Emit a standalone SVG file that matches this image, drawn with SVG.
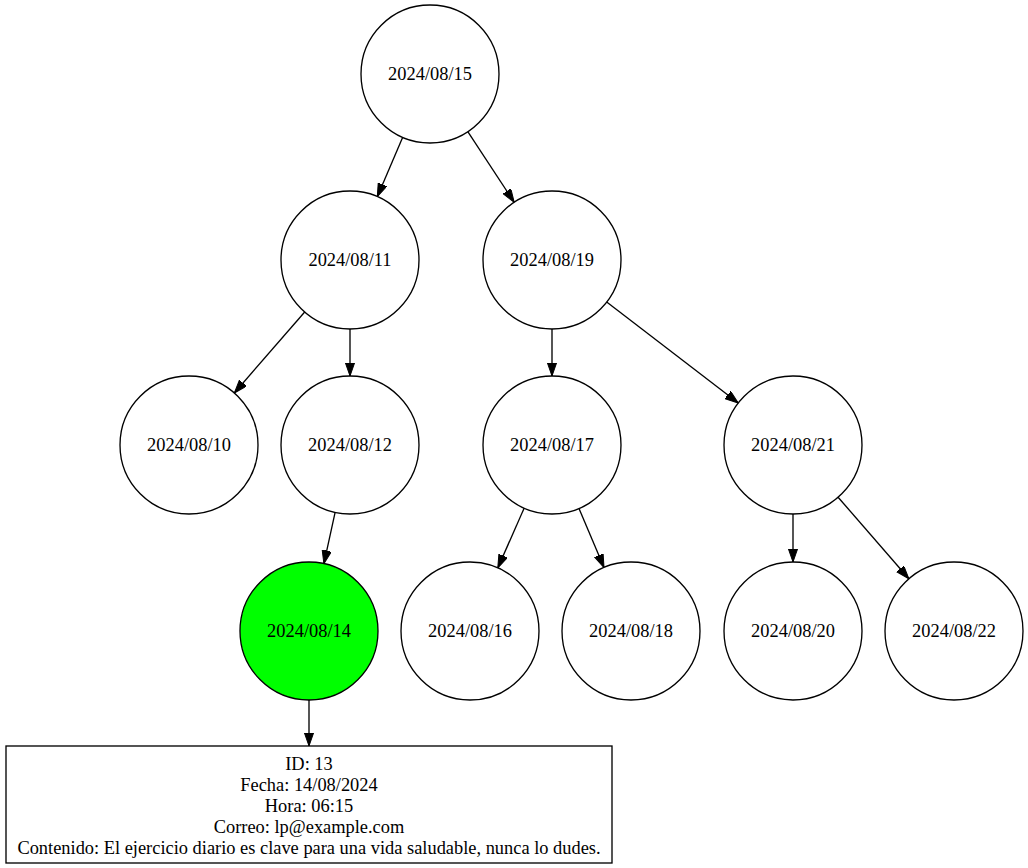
<svg xmlns="http://www.w3.org/2000/svg" width="1028" height="868" viewBox="0 0 1028 868">
  <style>
    .node circle { fill: #ffffff; stroke: #000000; stroke-width: 1.33; }
    .node.hl circle { fill: #00ff00; }
    .node rect { fill: #ffffff; stroke: #000000; stroke-width: 1.33; }
    text { font-family: "Liberation Serif", "Times New Roman", serif; font-size: 18.4px; fill: #000000; text-anchor: middle; }
    .edges line { stroke: #000000; stroke-width: 1.33; marker-end: url(#arrow); }
  </style>
  <defs>
    <marker id="arrow" markerUnits="userSpaceOnUse" markerWidth="14" markerHeight="10" refX="13.3" refY="4.67" orient="auto">
      <path d="M0,0 L13.3,4.67 L0,9.33 Z" fill="#000000" stroke="#000000" stroke-width="1"/>
    </marker>
  </defs>
  <rect width="1028" height="868" fill="#ffffff"/>

  <!-- edges -->
  <g class="edges">
    <line x1="402.7" y1="137.3" x2="377.3" y2="196.7"/>
    <line x1="467.8" y1="131.7" x2="514.2" y2="202.3"/>
    <line x1="304.7" y1="312" x2="234.3" y2="393"/>
    <line x1="350" y1="329" x2="350" y2="376"/>
    <line x1="552" y1="329" x2="552" y2="376"/>
    <line x1="606.7" y1="302" x2="738.3" y2="403"/>
    <line x1="335.1" y1="512.4" x2="323.9" y2="563.7"/>
    <line x1="524.2" y1="508.1" x2="497.8" y2="567.9"/>
    <line x1="579" y1="508.5" x2="604" y2="567.5"/>
    <line x1="793" y1="514" x2="793" y2="562"/>
    <line x1="838.1" y1="497.2" x2="908.9" y2="578.8"/>
    <line x1="309" y1="700" x2="309" y2="746"/>
  </g>

  <!-- nodes -->
  <g id="n20240815" class="node"><circle cx="430" cy="74" r="69"/><text x="430" y="80">2024/08/15</text></g>
  <g id="n20240811" class="node"><circle cx="350" cy="260" r="69"/><text x="350" y="266">2024/08/11</text></g>
  <g id="n20240819" class="node"><circle cx="552" cy="260" r="69"/><text x="552" y="266">2024/08/19</text></g>
  <g id="n20240810" class="node"><circle cx="189" cy="445" r="69"/><text x="189" y="451">2024/08/10</text></g>
  <g id="n20240812" class="node"><circle cx="350" cy="445" r="69"/><text x="350" y="451">2024/08/12</text></g>
  <g id="n20240817" class="node"><circle cx="552" cy="445" r="69"/><text x="552" y="451">2024/08/17</text></g>
  <g id="n20240821" class="node"><circle cx="793" cy="445" r="69"/><text x="793" y="451">2024/08/21</text></g>
  <g id="n20240814" class="node hl"><circle cx="309" cy="631" r="69"/><text x="309" y="637">2024/08/14</text></g>
  <g id="n20240816" class="node"><circle cx="470" cy="631" r="69"/><text x="470" y="637">2024/08/16</text></g>
  <g id="n20240818" class="node"><circle cx="631" cy="631" r="69"/><text x="631" y="637">2024/08/18</text></g>
  <g id="n20240820" class="node"><circle cx="793" cy="631" r="69"/><text x="793" y="637">2024/08/20</text></g>
  <g id="n20240822" class="node"><circle cx="954" cy="631" r="69"/><text x="954" y="637">2024/08/22</text></g>

  <g id="detalle" class="node">
    <rect x="6" y="746" width="606" height="117"/>
    <text x="309" y="770">ID: 13</text>
    <text x="309" y="791">Fecha: 14/08/2024</text>
    <text x="309" y="812">Hora: 06:15</text>
    <text x="309" y="833">Correo: lp@example.com</text>
    <text x="309" y="854">Contenido: El ejercicio diario es clave para una vida saludable, nunca lo dudes.</text>
  </g>
</svg>
